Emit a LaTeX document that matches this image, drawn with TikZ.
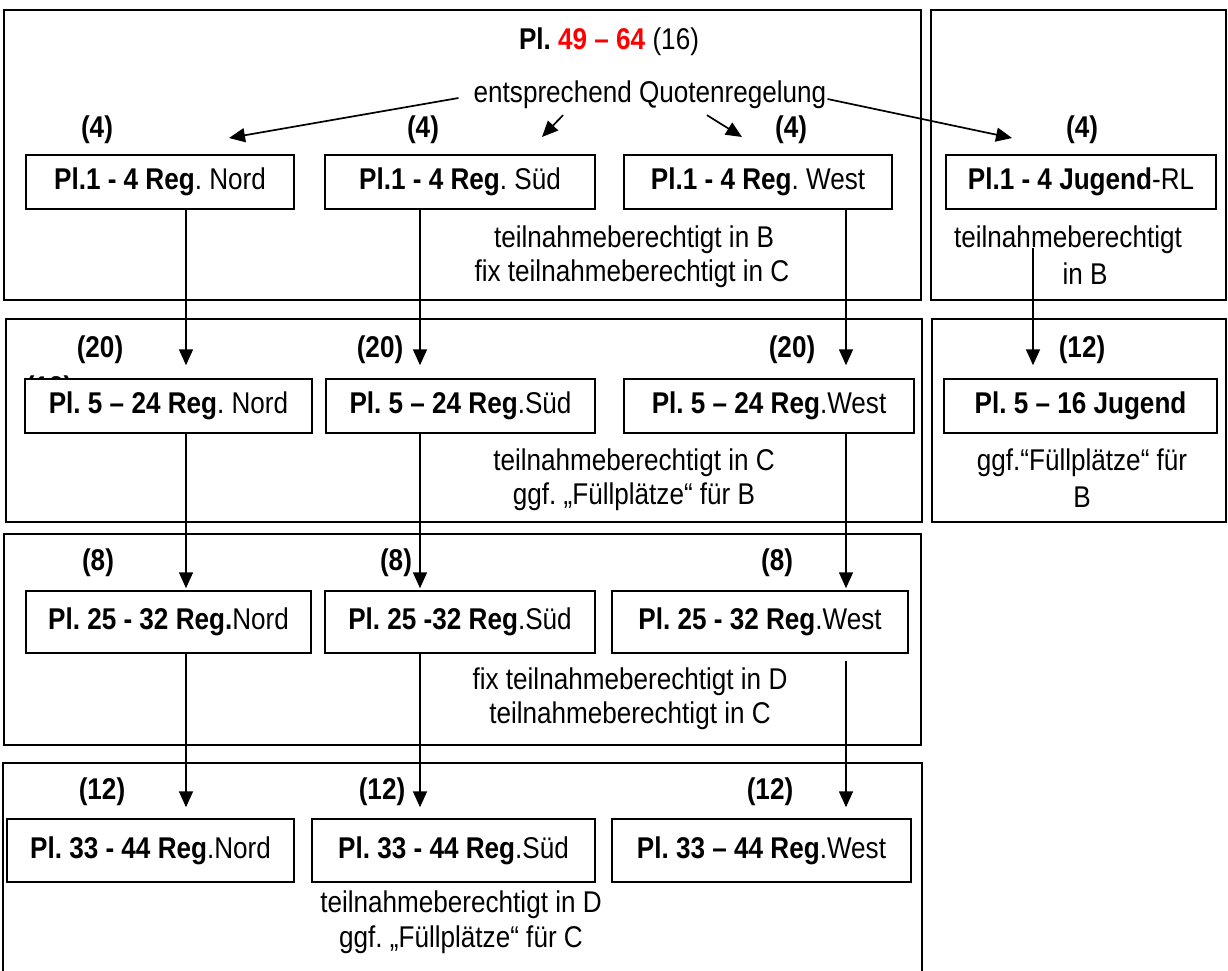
\documentclass[tikz,border=0pt]{standalone}
\usepackage{fontspec}
\setmainfont[FakeStretch=0.87]{Liberation Sans}
\usetikzlibrary{arrows.meta}
\definecolor{hired}{RGB}{255,0,0}
\begin{document}
\frenchspacing
\begin{tikzpicture}[x=1pt, y=-1pt,
  font=\fontsize{30}{33}\selectfont,
  frame/.style={draw, line width=1.3pt},
  regbox/.style={draw, line width=1.5pt, fill=white, inner sep=0pt, align=center},
  lbl/.style={inner sep=0pt, font=\fontsize{30}{33}\selectfont\bfseries},
  txt/.style={inner sep=0pt},
  arr/.style={line width=1.7pt, -{Triangle[length=16pt,width=14pt]}}]
\useasboundingbox (0,0) rectangle (1228,970);
% frames
\draw[frame] (4,10) rectangle (921,300);
\draw[frame] (931,10) rectangle (1226,300);
\draw[frame] (6,319) rectangle (922,522);
\draw[frame] (932,319) rectangle (1226,522);
\draw[frame] (4,534) rectangle (921,745);
\draw[frame] (3,975) -- (3,763) -- (922,763) -- (922,975);

% title
\node[txt] (title) at (609,42) {\textbf{Pl. \textcolor{hired}{49 – 64}} (16)};
\node[txt] (quote) at (650,95) {entsprechend Quotenregelung};

% row 1 labels
\node[lbl] (l1a) at (97,130) {(4)};
\node[lbl] (l1b) at (423,130) {(4)};
\node[lbl] (l1c) at (791,130) {(4)};
\node[lbl] (l1d) at (1082,130) {(4)};

% row 1 boxes
\node[regbox, minimum width=268pt, minimum height=54pt] (N1) at (160,182) {\textbf{Pl.1 - 4 Reg}. Nord};
\node[regbox, minimum width=270pt, minimum height=54pt] (S1) at (460,182) {\textbf{Pl.1 - 4 Reg}. Süd};
\node[regbox, minimum width=268pt, minimum height=54pt] (W1) at (758,182) {\textbf{Pl.1 - 4 Reg}. West};
\node[regbox, minimum width=270pt, minimum height=54pt] (J1) at (1081,182) {\textbf{Pl.1 - 4 Jugend}-RL};

\node[txt] (t1a) at (634,240) {teilnahmeberechtigt in B};
\node[txt] (t1b) at (632,274) {fix teilnahmeberechtigt in C};
\node[txt] (tj1a) at (1068,240) {teilnahmeberechtigt};
\node[txt] (tj1b) at (1085,274) {in B};

% top arrows
\coordinate (qN) at (229,138);
\coordinate (qS) at (542,137);
\coordinate (qW) at (742,137);
\coordinate (qJ) at (1012,138);
\draw[arr] ([shift={(-15,3)}]quote.west) -- (qN);
\draw[arr] ([shift={(-87,6)}]quote.south) -- (qS);
\draw[arr] ([shift={(57,6)}]quote.south) -- (qW);
\draw[arr] ([shift={(1,4)}]quote.east) -- (qJ);

% row 2
\node[lbl] (l2a) at (100,350) {(20)};
\node[lbl] (l2b) at (380,350) {(20)};
\node[lbl] (l2c) at (792,350) {(20)};
\node[lbl] (l2d) at (1082,350) {(12)};
\node[lbl] (l2h) at (49,390) {(12)};

\node[regbox, minimum width=287pt, minimum height=54pt] (N2) at (168.5,406) {\textbf{Pl. 5 – 24 Reg}. Nord};
\node[regbox, minimum width=269pt, minimum height=54pt] (S2) at (460.5,406) {\textbf{Pl. 5 – 24 Reg}.Süd};
\node[regbox, minimum width=290pt, minimum height=54pt] (W2) at (769,406) {\textbf{Pl. 5 – 24 Reg}.West};
\node[regbox, minimum width=273pt, minimum height=54pt] (J2) at (1080.5,406) {\textbf{Pl. 5 – 16 Jugend}};

\node[txt] (t2a) at (634,463) {teilnahmeberechtigt in C};
\node[txt] (t2b) at (634,497) {ggf. „Füllplätze“ für B};
\node[txt] (tj2a) at (1082,463) {ggf.“Füllplätze“ für};
\node[txt] (tj2b) at (1082,497) {B};

% row 3
\node[lbl] (l3a) at (98,563) {(8)};
\node[lbl] (l3b) at (396,563) {(8)};
\node[lbl] (l3c) at (777,563) {(8)};

\node[regbox, minimum width=285pt, minimum height=62pt] (N3) at (168.5,622) {\textbf{Pl. 25 - 32 Reg.}Nord};
\node[regbox, minimum width=270pt, minimum height=62pt] (S3) at (460,622) {\textbf{Pl. 25 -32 Reg}.Süd};
\node[regbox, minimum width=296pt, minimum height=62pt] (W3) at (760,622) {\textbf{Pl. 25 - 32 Reg}.West};

\node[txt] (t3a) at (630,682) {fix teilnahmeberechtigt in D};
\node[txt] (t3b) at (630,716) {teilnahmeberechtigt in C};

% row 4
\node[lbl] (l4a) at (102,792) {(12)};
\node[lbl] (l4b) at (382,792) {(12)};
\node[lbl] (l4c) at (770,792) {(12)};

\node[regbox, minimum width=287pt, minimum height=63pt] (N4) at (150.5,850.5) {\textbf{Pl. 33 - 44 Reg}.Nord};
\node[regbox, minimum width=283pt, minimum height=63pt] (S4) at (453.5,850.5) {\textbf{Pl. 33 - 44 Reg}.Süd};
\node[regbox, minimum width=299pt, minimum height=63pt] (W4) at (761.5,850.5) {\textbf{Pl. 33 – 44 Reg}.West};

\node[txt] (t4a) at (461,905) {teilnahmeberechtigt in D};
\node[txt] (t4b) at (461,940) {ggf. „Füllplätze“ für C};

% vertical arrows
\coordinate (xN) at (186,0);
\coordinate (xS) at (420,0);
\coordinate (xW) at (846,0);
\coordinate (xJ) at (1033,0);
\coordinate (jstart) at (1033,248);

\draw[arr, shorten >=13pt] (N1.south -| xN) -- (N2.north -| xN);
\draw[arr, shorten >=13pt] (S1.south -| xS) -- (S2.north -| xS);
\draw[arr, shorten >=13pt] (W1.south -| xW) -- (W2.north -| xW);
\draw[arr, shorten >=13pt] (jstart) -- (J2.north -| xJ);

\draw[arr, shorten >=2pt] (N2.south -| xN) -- (N3.north -| xN);
\draw[arr, shorten >=2pt] (S2.south -| xS) -- (S3.north -| xS);
\draw[arr, shorten >=2pt] (W2.south -| xW) -- (W3.north -| xW);

\draw[arr, shorten >=11pt] (N3.south -| xN) -- (N4.north -| xN);
\draw[arr, shorten >=11pt] (S3.south -| xS) -- (S4.north -| xS);
\draw[arr, shorten <=7pt, shorten >=11pt] (W3.south -| xW) -- (W4.north -| xW);
\end{tikzpicture}
\end{document}
